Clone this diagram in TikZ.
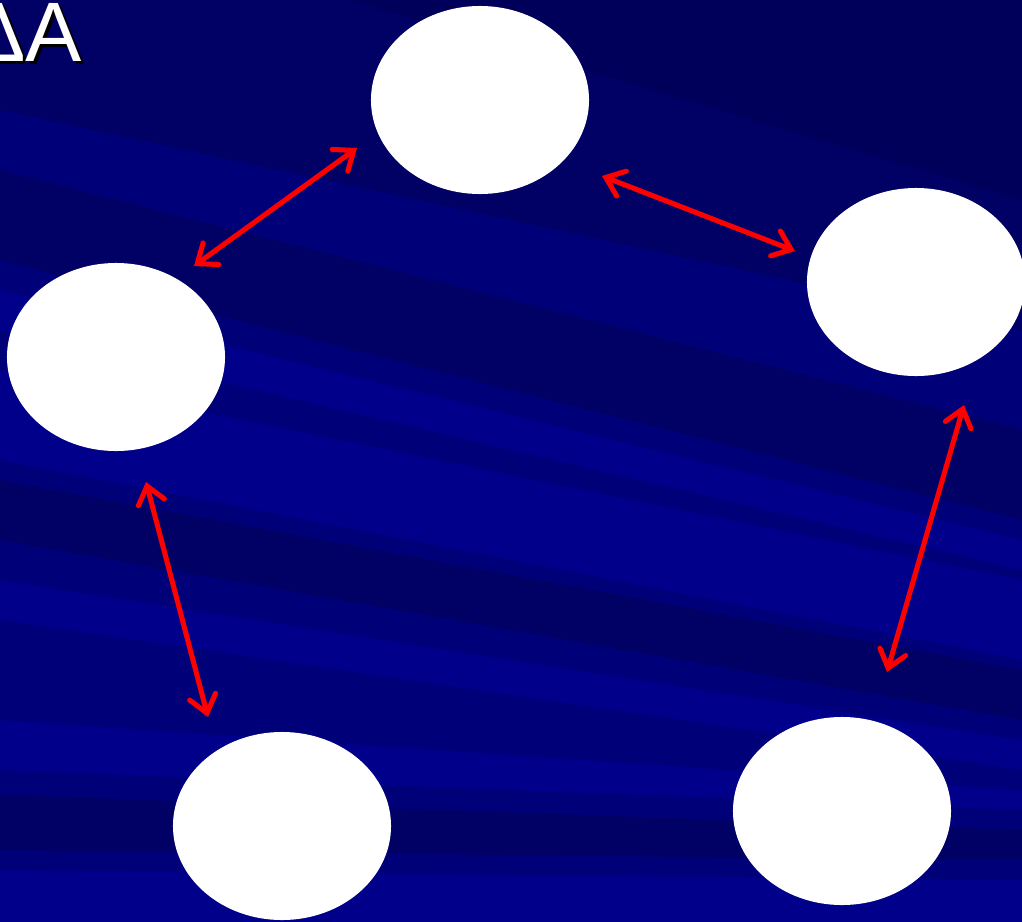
\documentclass[tikz,border=0pt]{standalone}
\usepackage{fontspec}
\setmainfont{Liberation Sans}
\usetikzlibrary{arrows.meta,shapes.geometric}
\definecolor{bgbase}{RGB}{0,0,120}
\definecolor{bgdark}{RGB}{0,0,80}
\definecolor{bglight}{RGB}{0,0,160}
\tikzset{
  disc/.style={ellipse, fill=white, draw=none, minimum width=5.45cm, minimum height=4.7cm, inner sep=0pt},
  link/.style={draw=red, line width=3.6pt, {Straight Barb[length=12pt,width=19pt,line width=3.6pt,line cap=round]}-{Straight Barb[length=12pt,width=19pt,line width=3.6pt,line cap=round]}},
  darkband/.style={fill=bgdark, opacity=0.45, draw=none},
  lightband/.style={fill=bglight, opacity=0.45, draw=none}
}
\begin{document}
\begin{tikzpicture}[x=0.025cm,y=-0.025cm]
\useasboundingbox (0,0) rectangle (1022,922);
% background
\fill[bgbase] (0,0) rectangle (1022,922);
\path[darkband] (0,0) -- (1022,0) -- (1022,330) -- (0,110) -- cycle;
\path[darkband] (350,0) -- (1022,0) -- (1022,200) -- cycle;
\path[darkband] (0,170) -- (1022,430) -- (1022,520) -- (0,260) -- cycle;
\path[lightband] (0,290) -- (1022,540) -- (1022,570) -- (0,330) -- cycle;
\path[lightband] (0,370) -- (1022,580) -- (1022,660) -- (0,460) -- cycle;
\path[darkband] (0,480) -- (1022,670) -- (1022,720) -- (0,540) -- cycle;
\path[lightband] (0,580) -- (1022,740) -- (1022,770) -- (0,620) -- cycle;
\path[lightband] (0,720) -- (1022,790) -- (1022,810) -- (0,770) -- cycle;
\path[darkband] (0,795) -- (1022,830) -- (1022,860) -- (0,850) -- cycle;
\path[lightband] (0,870) -- (1022,880) -- (1022,922) -- (0,922) -- cycle;
% title
\node[anchor=base east, text=black, font=\fontsize{60}{60}\selectfont, inner sep=0pt] (titleshadow) at (85,64) {ΔΑ};
\node[anchor=base east, text=white, font=\fontsize{60}{60}\selectfont, inner sep=0pt] (title) at (82,61) {ΔΑ};
% discs
\node[disc] (top) at (480,100) {};
\node[disc] (right) at (916,282) {};
\node[disc] (left) at (116,357) {};
\node[disc] (botleft) at (282,826) {};
\node[disc] (botright) at (842,811) {};
% arrow ends
\coordinate (a1) at (357,148); \coordinate (a2) at (194,266);
\coordinate (b1) at (602,176); \coordinate (b2) at (795,251);
\coordinate (c1) at (146,482); \coordinate (c2) at (208,717);
\coordinate (d1) at (964,405); \coordinate (d2) at (887,672);
\draw[link] (a1) -- (a2);
\draw[link] (b1) -- (b2);
\draw[link] (c1) -- (c2);
\draw[link] (d1) -- (d2);
\end{tikzpicture}
\end{document}
